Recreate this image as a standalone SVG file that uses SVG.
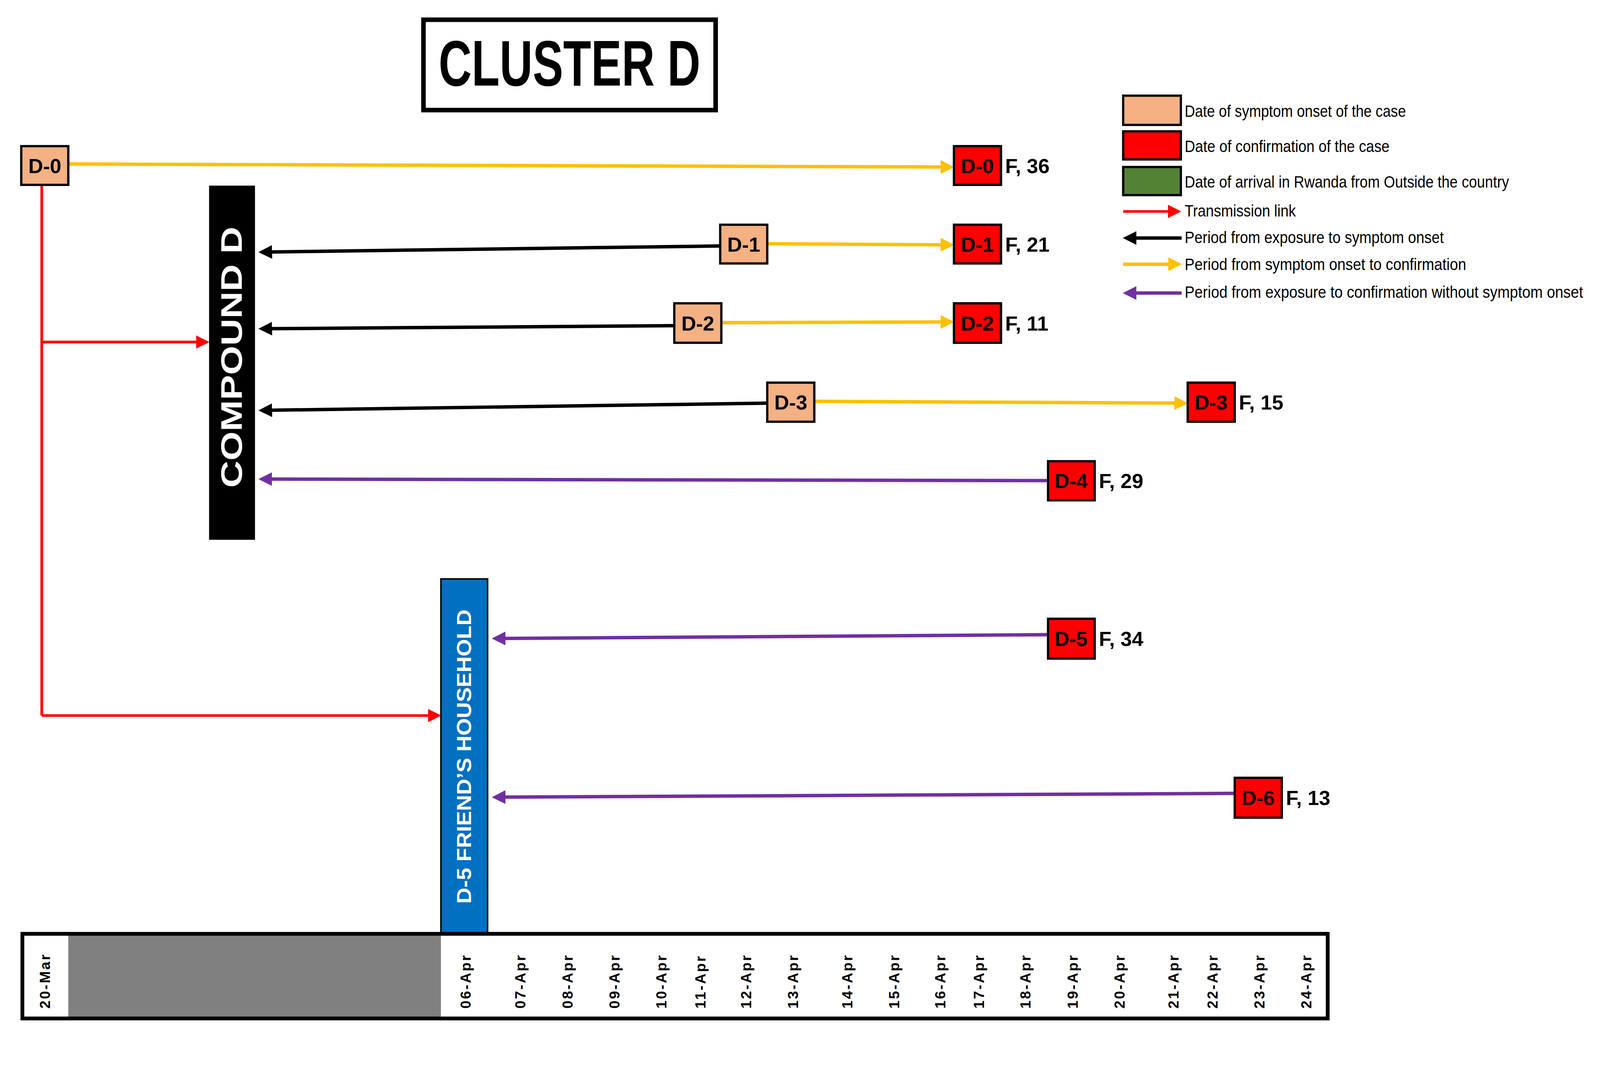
<svg xmlns="http://www.w3.org/2000/svg" width="4195" height="2733" viewBox="0 0 4195 2733">
<style>
.on{fill:#f4b183;stroke:#000;stroke-width:6}
.cf{fill:#ff0000;stroke:#000;stroke-width:6}
.bl{font-family:"Liberation Sans Narrow","Liberation Sans",sans-serif;font-weight:bold;font-size:54px;fill:#000}
.lg{font-family:"Liberation Sans Narrow","Liberation Sans",sans-serif;font-size:44px;fill:#000}
.dt{font-family:"Liberation Sans",sans-serif;font-weight:bold;font-size:38px;fill:#000;letter-spacing:4px}
.y{stroke:#ffc000;stroke-width:9;fill:none}
.k{stroke:#000;stroke-width:9;fill:none}
.p{stroke:#7030a0;stroke-width:9;fill:none}
.r{stroke:#ff0000;stroke-width:7;fill:none}
</style>
<defs>
<marker id="my" markerWidth="4" markerHeight="4" refX="3" refY="2" orient="auto"><path d="M0,0 L4,2 L0,4 Z" fill="#ffc000"/></marker>
<marker id="mk" markerWidth="4" markerHeight="4" refX="3" refY="2" orient="auto"><path d="M0,0 L4,2 L0,4 Z" fill="#000"/></marker>
<marker id="mp" markerWidth="4" markerHeight="4" refX="3" refY="2" orient="auto"><path d="M0,0 L4,2 L0,4 Z" fill="#7030a0"/></marker>
<marker id="mr" markerWidth="5" markerHeight="5" refX="4" refY="2.5" orient="auto"><path d="M0,0 L5,2.5 L0,5 Z" fill="#ff0000"/></marker>
</defs>
<rect width="4195" height="2733" fill="#fff"/>
<g transform="scale(0.9714)">
<g id="title"><rect x="1116" y="52" width="770" height="238" fill="#fff" stroke="#000" stroke-width="12"/>
<text x="1501" y="225" text-anchor="middle" font-family="Liberation Sans Narrow,Liberation Sans,sans-serif" font-weight="bold" font-size="170" textLength="690" lengthAdjust="spacingAndGlyphs">CLUSTER D</text></g>

<g id="connectors">
<path class="r" d="M110,487 V1885"/>
<path class="r" d="M110,901 H545" marker-end="url(#mr)"/>
<path class="r" d="M110,1885 H1156" marker-end="url(#mr)"/>
<path class="y" d="M180,432 L2506,440" marker-end="url(#my)"/>
<path class="k" d="M1898,648 L690,664" marker-end="url(#mk)"/>
<path class="y" d="M2022,642 L2506,645" marker-end="url(#my)"/>
<path class="k" d="M1777,858 L690,866" marker-end="url(#mk)"/>
<path class="y" d="M1901,850 L2506,848" marker-end="url(#my)"/>
<path class="k" d="M2022,1062 L690,1081" marker-end="url(#mk)"/>
<path class="y" d="M2146,1057 L3122,1062" marker-end="url(#my)"/>
<path class="p" d="M2762,1266 L690,1262" marker-end="url(#mp)"/>
<path class="p" d="M2762,1672 L1305,1682" marker-end="url(#mp)"/>
<path class="p" d="M3254,2090 L1305,2100" marker-end="url(#mp)"/>
</g>

<g id="compound"><rect x="551" y="489" width="121" height="933" fill="#000"/>
<text transform="translate(637,941) rotate(-90)" text-anchor="middle" font-family="Liberation Sans,sans-serif" font-weight="bold" font-size="78" fill="#fff" textLength="688" lengthAdjust="spacingAndGlyphs">COMPOUND D</text></g>
<g id="household"><rect x="1162" y="1525" width="123" height="935" fill="#0070c0" stroke="#000" stroke-width="4"/>
<text transform="translate(1242,1993) rotate(-90)" text-anchor="middle" font-family="Liberation Sans,sans-serif" font-weight="bold" font-size="54" fill="#fff" textLength="775" lengthAdjust="spacingAndGlyphs">D-5 FRIEND’S HOUSEHOLD</text></g>

<g id="D0on"><rect class="on" x="56" y="385" width="124" height="102"/><text class="bl" x="118" y="456" text-anchor="middle">D-0</text></g>
<g id="D0cf"><rect class="cf" x="2514" y="385" width="124" height="102"/><text class="bl" x="2576" y="456" text-anchor="middle">D-0</text><text class="bl" x="2649" y="456">F, 36</text></g>
<g id="D1on"><rect class="on" x="1898" y="592" width="124" height="102"/><text class="bl" x="1960" y="663" text-anchor="middle">D-1</text></g>
<g id="D1cf"><rect class="cf" x="2514" y="592" width="124" height="102"/><text class="bl" x="2576" y="663" text-anchor="middle">D-1</text><text class="bl" x="2649" y="663">F, 21</text></g>
<g id="D2on"><rect class="on" x="1777" y="799" width="124" height="104"/><text class="bl" x="1839" y="871" text-anchor="middle">D-2</text></g>
<g id="D2cf"><rect class="cf" x="2514" y="799" width="124" height="104"/><text class="bl" x="2576" y="871" text-anchor="middle">D-2</text><text class="bl" x="2649" y="871">F, 11</text></g>
<g id="D3on"><rect class="on" x="2022" y="1008" width="124" height="103"/><text class="bl" x="2084" y="1079" text-anchor="middle">D-3</text></g>
<g id="D3cf"><rect class="cf" x="3130" y="1008" width="124" height="103"/><text class="bl" x="3192" y="1079" text-anchor="middle">D-3</text><text class="bl" x="3265" y="1079">F, 15</text></g>
<g id="D4cf"><rect class="cf" x="2762" y="1215" width="123" height="103"/><text class="bl" x="2823" y="1286" text-anchor="middle">D-4</text><text class="bl" x="2896" y="1286">F, 29</text></g>
<g id="D5cf"><rect class="cf" x="2762" y="1630" width="123" height="105"/><text class="bl" x="2823" y="1702" text-anchor="middle">D-5</text><text class="bl" x="2896" y="1702">F, 34</text></g>
<g id="D6cf"><rect class="cf" x="3254" y="2049" width="124" height="105"/><text class="bl" x="3316" y="2121" text-anchor="middle">D-6</text><text class="bl" x="3389" y="2121">F, 13</text></g>

<g id="timeline">
<rect x="180" y="2460" width="982" height="226" fill="#808080"/>
<rect x="59" y="2460" width="3440" height="223" fill="none" stroke="#000" stroke-width="10"/>
<g class="dt">
<text transform="translate(132,2657) rotate(-90)">20-Mar</text>
<text transform="translate(1240,2657) rotate(-90)">06-Apr</text>
<text transform="translate(1385,2657) rotate(-90)">07-Apr</text>
<text transform="translate(1509,2657) rotate(-90)">08-Apr</text>
<text transform="translate(1633,2657) rotate(-90)">09-Apr</text>
<text transform="translate(1756,2657) rotate(-90)">10-Apr</text>
<text transform="translate(1859,2657) rotate(-90)">11-Apr</text>
<text transform="translate(1980,2657) rotate(-90)">12-Apr</text>
<text transform="translate(2103,2657) rotate(-90)">13-Apr</text>
<text transform="translate(2246,2657) rotate(-90)">14-Apr</text>
<text transform="translate(2370,2657) rotate(-90)">15-Apr</text>
<text transform="translate(2491,2657) rotate(-90)">16-Apr</text>
<text transform="translate(2593,2657) rotate(-90)">17-Apr</text>
<text transform="translate(2716,2657) rotate(-90)">18-Apr</text>
<text transform="translate(2840,2657) rotate(-90)">19-Apr</text>
<text transform="translate(2964,2657) rotate(-90)">20-Apr</text>
<text transform="translate(3106,2657) rotate(-90)">21-Apr</text>
<text transform="translate(3209,2657) rotate(-90)">22-Apr</text>
<text transform="translate(3332,2657) rotate(-90)">23-Apr</text>
<text transform="translate(3456,2657) rotate(-90)">24-Apr</text>
</g></g>

<g id="legend">
<rect x="2960" y="252" width="152" height="77" fill="#f4b183" stroke="#000" stroke-width="6"/>
<rect x="2960" y="346" width="152" height="74" fill="#ff0000" stroke="#000" stroke-width="6"/>
<rect x="2960" y="440" width="152" height="74" fill="#548235" stroke="#000" stroke-width="6"/>
<path class="r" d="M2960,557 H3106" marker-end="url(#mr)"/>
<path class="k" d="M3114,627 H2968" marker-end="url(#mk)"/>
<path class="y" d="M2960,696 H3106" marker-end="url(#my)"/>
<path class="p" d="M3114,772 H2968" marker-end="url(#mp)"/>
<text class="lg" x="3122" y="308" textLength="583" lengthAdjust="spacingAndGlyphs">Date of symptom onset of the case</text>
<text class="lg" x="3122" y="400" textLength="540" lengthAdjust="spacingAndGlyphs">Date of confirmation of the case</text>
<text class="lg" x="3122" y="494" textLength="855" lengthAdjust="spacingAndGlyphs">Date of arrival in Rwanda from Outside the country</text>
<text class="lg" x="3122" y="570" textLength="293" lengthAdjust="spacingAndGlyphs">Transmission link</text>
<text class="lg" x="3122" y="640" textLength="683" lengthAdjust="spacingAndGlyphs">Period from exposure to symptom onset</text>
<text class="lg" x="3122" y="711" textLength="742" lengthAdjust="spacingAndGlyphs">Period from symptom onset to confirmation</text>
<text class="lg" x="3122" y="784" textLength="1050" lengthAdjust="spacingAndGlyphs">Period from exposure to confirmation without symptom onset</text>
</g>
</g>
</svg>
